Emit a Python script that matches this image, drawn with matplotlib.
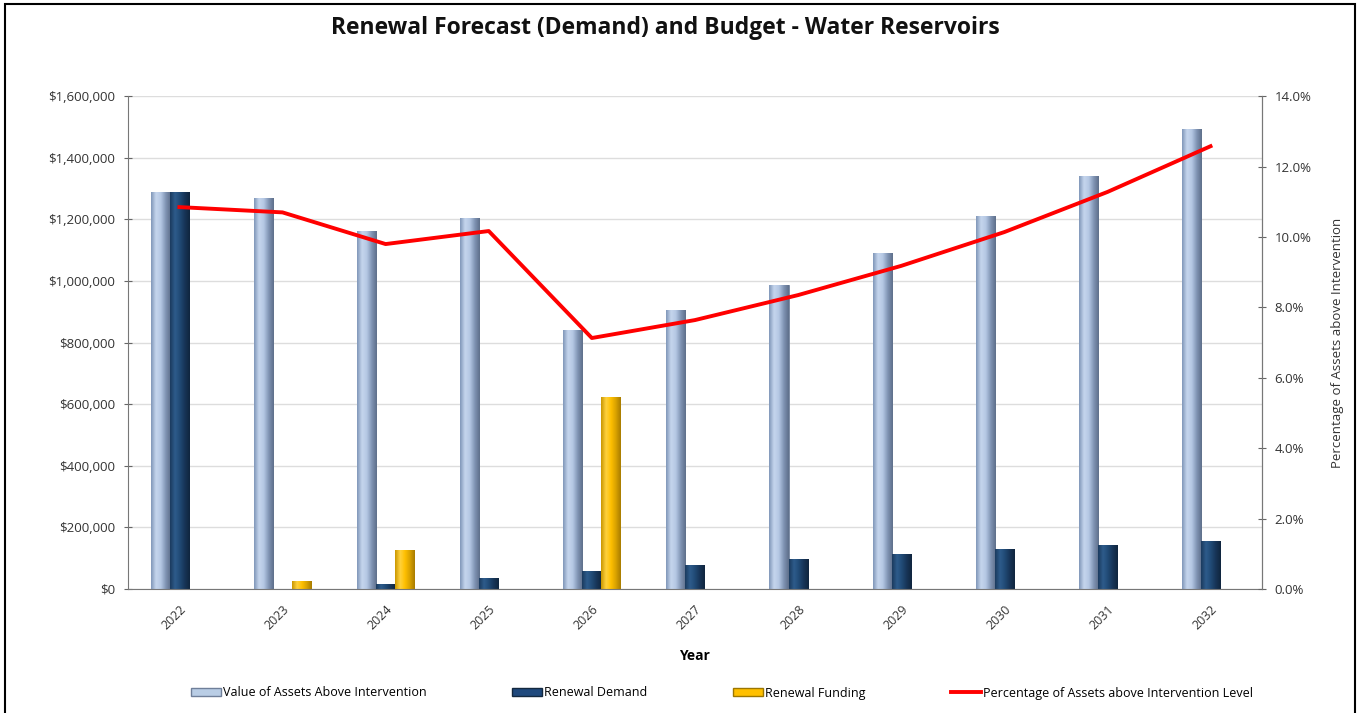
import numpy as np
import matplotlib
matplotlib.use("Agg")
import matplotlib.pyplot as plt
from matplotlib.colors import LinearSegmentedColormap
from matplotlib.patches import Rectangle, Patch
from matplotlib.lines import Line2D
from matplotlib.ticker import FuncFormatter, MultipleLocator

plt.rcParams['font.family'] = ['Open Sans', 'DejaVu Sans']

years = ['2022', '2023', '2024', '2025', '2026', '2027', '2028', '2029', '2030', '2031', '2032']
value_above = [1290000, 1270000, 1162000, 1204000, 841000, 906000, 987000, 1091000, 1211000, 1340000, 1493000]
renewal_demand = [1290000, 0, 16000, 36000, 58000, 78000, 97000, 114000, 130000, 143000, 156000]
renewal_funding = [0, 26000, 127000, 0, 623000, 0, 0, 0, 0, 0, 0]
pct_above = [10.85, 10.7, 9.8, 10.17, 7.13, 7.64, 8.35, 9.18, 10.14, 11.28, 12.58]

series_names = ['Value of Assets Above Intervention', 'Renewal Demand', 'Renewal Funding',
                'Percentage of Assets above Intervention Level']

fig = plt.figure(figsize=(13.6, 7.13), dpi=100)
ax = fig.add_axes([0.094, 0.174, 0.834, 0.691])
ax2 = ax.twinx()

x = np.arange(len(years))
w = 0.185
cmaps = [
    LinearSegmentedColormap.from_list('v', ['#8096B8', '#C6D6EE', '#B4C7E3', '#7F93B3', '#5E6F8A']),
    LinearSegmentedColormap.from_list('d', ['#1B3A5E', '#2E5C8C', '#204A75', '#173457', '#10253E']),
    LinearSegmentedColormap.from_list('f', ['#C99600', '#FFD23F', '#FFC000', '#D9A200', '#A87C00']),
]
edge_cols = ['#6F7F99', '#13283F', '#9C7600']
fills = ['#B9CDE5', '#1F497D', '#FFC000']
grad = np.linspace(0, 1, 64).reshape(1, -1)
for i, vals in enumerate([value_above, renewal_demand, renewal_funding]):
    bars = ax.bar(x + (i - 1) * w, vals, width=w, color=fills[i], edgecolor=edge_cols[i],
                  linewidth=0.6, zorder=2)
    for b in bars:
        h = b.get_height()
        if h <= 0:
            continue
        bx = b.get_x()
        im = ax.imshow(grad, extent=[bx, bx + b.get_width(), 0, h], aspect='auto',
                       cmap=cmaps[i], zorder=2.5, interpolation='bicubic')
        im.set_clip_path(b)

ax.set_xlim(-0.5, len(years) - 0.5)
ax.set_ylim(0, 1600000)
ax.set_aspect('auto')
ax.yaxis.set_major_locator(MultipleLocator(200000))
ax.yaxis.set_major_formatter(FuncFormatter(lambda v, p: '$0' if v == 0 else f'${v:,.0f}'))
ax.set_xticks(x)
ax.set_xticklabels(years, rotation=45, fontsize=9, color='#333333', ha='right',
                   rotation_mode='anchor')
ax.tick_params(axis='x', length=0, pad=10)
ax.tick_params(axis='y', labelsize=9.5, colors='#333333', length=6, direction='inout',
               color='#666666', pad=6)
ax.grid(axis='y', color='#DDDDDD', linewidth=1, zorder=0)
ax.set_axisbelow(True)
ax.spines['top'].set_visible(False)
for s in ['left', 'bottom', 'right']:
    ax.spines[s].set_color('#777777')
ax.set_xlabel('Year', fontsize=10, fontweight='bold', labelpad=12)

ax2.plot(x, pct_above, color='#FF0000', linewidth=2.8, zorder=5)
ax2.set_ylim(0, 14)
ax2.yaxis.set_major_locator(MultipleLocator(2))
ax2.yaxis.set_major_formatter(FuncFormatter(lambda v, p: f'{v:.1f}%'))
ax2.tick_params(axis='y', labelsize=9.5, colors='#333333', length=6, direction='inout',
                color='#666666', pad=6)
for s in ['top', 'left', 'bottom']:
    ax2.spines[s].set_visible(False)
ax2.spines['right'].set_color('#777777')
ax2.set_ylabel('Percentage of Assets above Intervention', fontsize=9.5, color='#333333',
               labelpad=14)

fig.text(665 / 1360, 1 - 28 / 713, 'Renewal Forecast (Demand) and Budget - Water Reservoirs',
         ha='center', va='center', fontsize=16.5, fontweight='bold', color='#111111')

handles = [Patch(facecolor=fills[0], edgecolor=edge_cols[0]),
           Patch(facecolor=fills[1], edgecolor=edge_cols[1]),
           Patch(facecolor=fills[2], edgecolor=edge_cols[2]),
           Line2D([0], [0], color='#FF0000', linewidth=2.8)]
fig.legend(handles, series_names, loc='center', bbox_to_anchor=(722 / 1360, 1 - 693 / 713),
           ncol=4, frameon=False, fontsize=9, handlelength=2.4, handleheight=0.6,
           handletextpad=0.2, columnspacing=6.8)

fig.patches.append(Rectangle((0.004, -0.01), 0.992, 1.005, transform=fig.transFigure,
                             fill=False, edgecolor='black', linewidth=1.5))

fig.savefig('out.png', dpi=100)
